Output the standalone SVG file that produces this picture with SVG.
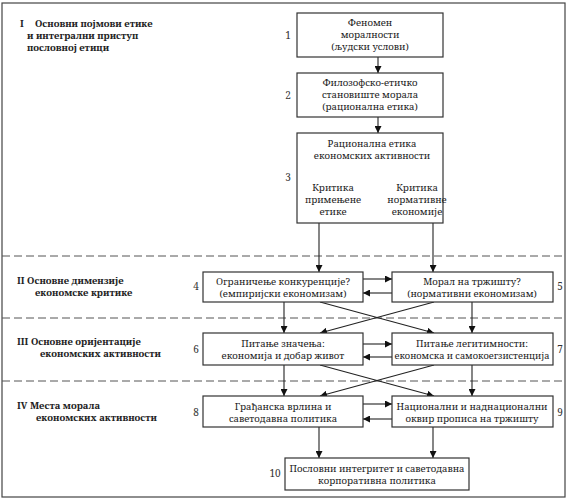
<svg xmlns="http://www.w3.org/2000/svg" width="572" height="502" viewBox="0 0 572 502">
<defs>
<marker id="ah" viewBox="0 0 10 10" refX="10" refY="5" markerWidth="7" markerHeight="7" markerUnits="userSpaceOnUse" orient="auto">
<path d="M0,0 L10,5 L0,10 Z" fill="#111"/>
</marker>
<style>
.box{fill:#fff;stroke:#333;stroke-width:1.2}
.t{font-family:'Noto Serif','DejaVu Serif',serif;font-size:9.5px;fill:#222;text-anchor:middle}
.n{font-family:'Noto Serif','DejaVu Serif',serif;font-size:10px;fill:#333;text-anchor:middle}
.h{font-family:'Noto Serif','DejaVu Serif',serif;font-size:9.5px;font-weight:bold;fill:#222}
.c{fill:none;stroke:#222;stroke-width:1.1;marker-end:url(#ah)}
.d{stroke:#555;stroke-width:1;stroke-dasharray:8,4}
</style>
</defs>
<rect x="2" y="3" width="563" height="494" fill="#fff" stroke="#444" stroke-width="1.2"/>
<g id="separators">
<line class="d" x1="2" y1="256" x2="565" y2="256"/>
<line class="d" x1="2" y1="318" x2="565" y2="318"/>
<line class="d" x1="2" y1="381" x2="565" y2="381"/>
</g>
<g id="section-I">
<text class="h" x="20" y="27">I</text>
<text class="h" x="35" y="27">Основни појмови етике</text>
<text class="h" x="27" y="39">и интегрални приступ</text>
<text class="h" x="27" y="51">пословној етици</text>
</g>
<g id="section-II">
<text class="h" x="17" y="284">II  Основне димензије</text>
<text class="h" x="35" y="296">економске критике</text>
</g>
<g id="section-III">
<text class="h" x="17" y="345">III Основне оријентације</text>
<text class="h" x="40" y="357">економских активности</text>
</g>
<g id="section-IV">
<text class="h" x="17" y="409">IV Места морала</text>
<text class="h" x="36" y="421">економских активности</text>
</g>
<g id="connectors">
<path class="c" d="M378,57 V73"/>
<path class="c" d="M378,117 V133"/>
<path class="c" d="M334,162 V177"/>
<path class="c" d="M418,162 V177"/>
<path class="c" d="M319,223 V272"/>
<path class="c" d="M433,223 V272"/>
<path class="c" d="M363,279 H392"/>
<path class="c" d="M392,293 H363"/>
<path class="c" d="M284,302 V333"/>
<path class="c" d="M472,302 V333"/>
<path class="c" d="M320,302 L434,333"/>
<path class="c" d="M434,302 L320,333"/>
<path class="c" d="M363,344 H392"/>
<path class="c" d="M392,357 H363"/>
<path class="c" d="M284,365 V396"/>
<path class="c" d="M472,365 V396"/>
<path class="c" d="M320,365 L434,396"/>
<path class="c" d="M434,365 L320,396"/>
<path class="c" d="M363,404 H392"/>
<path class="c" d="M392,419 H363"/>
<path class="c" d="M319,427 V458"/>
<path class="c" d="M433,427 V458"/>
</g>
<g id="node1">
<rect class="box" x="297" y="13" width="146" height="44"/>
<text class="t" x="370" y="26">Феномен</text>
<text class="t" x="370" y="38">моралности</text>
<text class="t" x="370" y="50">(људски услови)</text>
<text class="n" x="288" y="39">1</text>
</g>
<g id="node2">
<rect class="box" x="297" y="73" width="146" height="44"/>
<text class="t" x="370" y="86">Филозофско-етичко</text>
<text class="t" x="370" y="98">становиште морала</text>
<text class="t" x="370" y="110">(рационална етика)</text>
<text class="n" x="288" y="99">2</text>
</g>
<g id="node3">
<rect class="box" x="297" y="133" width="146" height="90"/>
<text class="t" x="372" y="147">Рационална етика</text>
<text class="t" x="372" y="159">економских активности</text>
<text class="t" x="333" y="191">Критика</text>
<text class="t" x="333" y="203">примењене</text>
<text class="t" x="333" y="215">етике</text>
<text class="t" x="417" y="191">Критика</text>
<text class="t" x="417" y="203">нормативне</text>
<text class="t" x="417" y="215">економије</text>
<text class="n" x="288" y="181">3</text>
</g>
<g id="node4">
<rect class="box" x="203" y="272" width="160" height="30"/>
<text class="t" x="283" y="285">Ограничење конкуренције?</text>
<text class="t" x="283" y="297">(емпиријски економизам)</text>
<text class="n" x="196" y="290">4</text>
</g>
<g id="node5">
<rect class="box" x="392" y="272" width="161" height="30"/>
<text class="t" x="472" y="285">Морал на тржишту?</text>
<text class="t" x="472" y="297">(нормативни економизам)</text>
<text class="n" x="560" y="290">5</text>
</g>
<g id="node6">
<rect class="box" x="203" y="333" width="160" height="32"/>
<text class="t" x="283" y="347">Питање значења:</text>
<text class="t" x="283" y="359">економија и добар живот</text>
<text class="n" x="196" y="353">6</text>
</g>
<g id="node7">
<rect class="box" x="392" y="333" width="161" height="32"/>
<text class="t" x="472" y="347">Питање легитимности:</text>
<text class="t" x="472" y="359" textLength="155" lengthAdjust="spacingAndGlyphs">економска и самокоегзистенција</text>
<text class="n" x="560" y="353">7</text>
</g>
<g id="node8">
<rect class="box" x="203" y="396" width="160" height="31"/>
<text class="t" x="283" y="410">Грађанска врлина и</text>
<text class="t" x="283" y="422">саветодавна политика</text>
<text class="n" x="196" y="416">8</text>
</g>
<g id="node9">
<rect class="box" x="392" y="396" width="161" height="31"/>
<text class="t" x="472" y="410">Национални и наднационални</text>
<text class="t" x="472" y="422">оквир прописа на тржишту</text>
<text class="n" x="560" y="416">9</text>
</g>
<g id="node10">
<rect class="box" x="285" y="458" width="184" height="32"/>
<text class="t" x="377" y="472">Пословни интегритет  и саветодавна</text>
<text class="t" x="377" y="484">корпоративна политика</text>
<text class="n" x="275" y="477">10</text>
</g>
</svg>
